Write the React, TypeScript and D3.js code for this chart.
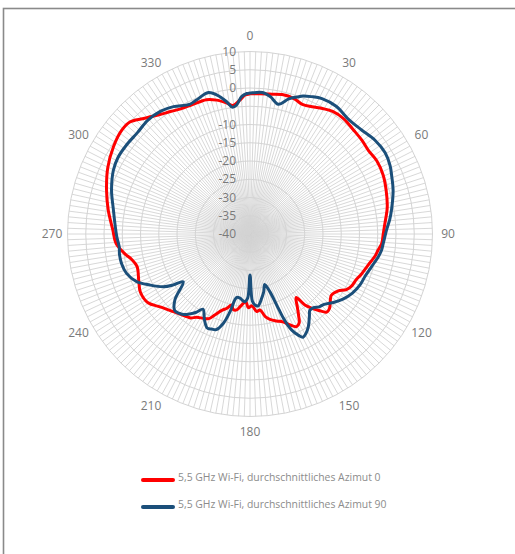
import * as d3 from "d3";

// radial axis (dB)
const ringValues = [10, 5, 0, -5, -10, -15, -20, -25, -30, -35, -40];
const ringLabels = [10, 5, 0, -10, -15, -20, -25, -30, -35, -40];
const categoryLabels = [0, 30, 60, 90, 120, 150, 180, 210, 240, 270, 300, 330];

// 5,5 GHz Wi-Fi, durchschnittliches Azimut 0
const azimut0Angles = [
  0, 4, 8, 13, 18, 22, 26, 30, 34, 39, 45, 50, 55, 60, 66, 72, 79, 86, 90, 94,
  97, 100, 105, 110, 113, 117, 120, 123, 127, 130, 133, 135.5, 138, 140.5,
  142.3, 144, 147, 149.2, 151, 153.3, 156.5, 159.5, 163, 166.5, 169.5, 172.5,
  175, 178.5, 181.3, 183.5, 186.7, 189.9, 192.5, 194.5, 197.5, 200, 203.5, 206,
  209, 212.6, 215.4, 218, 224.6, 231, 236, 242, 247, 254, 258, 261, 266, 271.7,
  279.6, 287, 295, 302.6, 309, 313, 317, 320, 323, 327, 331, 336, 342, 346, 350,
  352.5, 355.5, 358,
];
const azimut0Values = [
  -1.6, -1.5, -1.3, -0.8, -1.0, -1.7, -1.2, -0.3, 0.5, 0.7, 0.2, 0.0, -0.3, 0.1,
  -0.1, -0.8, -1.7, -3.0, -3.5, -3.8, -4.6, -5.2, -6.6, -7.6, -8.3, -8.7, -9.5,
  -11.3, -12.1, -11.3, -10.2, -10.0, -11.8, -13.8, -15.4, -18.5, -16.2, -14.0,
  -12.2, -11.6, -12.9, -14.3, -15.1, -15.9, -17.0, -19.0, -18.7, -20.3, -19.8,
  -21.4, -20.4, -18.9, -18.8, -19.9, -18.6, -17.8, -15.8, -14.2, -13.6, -12.9,
  -11.8, -11.4, -10.1, -8.3, -6.3, -6.0, -6.9, -7.8, -6.8, -5.3, -3.2, -2.4,
  -0.6, 1.1, 3.0, 4.4, 5.2, 5.0, 3.2, 2.0, 1.0, 0.0, -0.8, -1.2, -1.3, -2.2,
  -3.6, -4.5, -3.3, -1.9,
];

// 5,5 GHz Wi-Fi, durchschnittliches Azimut 90
const azimut90Angles = [
  0, 5, 8.5, 12.3, 16, 19, 21, 24, 28, 34, 41, 47, 53, 59, 64, 68, 73, 80, 84,
  88, 94, 97, 100, 105, 110, 115, 120, 125, 129, 133.5, 136.5, 139.5, 142, 144,
  147.8, 150.5, 152.8, 154.5, 156.5, 157.5, 158.4, 159.4, 161, 163.8, 166.5,
  169.7, 173.5, 176, 178, 180, 182, 184.2, 186, 188.8, 192, 194.4, 196.6, 199.5,
  202, 204.5, 208, 212, 214.5, 217, 219.5, 222, 224.6, 228.7, 234.4, 236.4,
  238.7, 243, 247.2, 252.3, 257, 261, 264.4, 268.8, 275, 280, 287.6, 295, 300,
  306, 312, 318, 324, 329, 335, 338, 343.6, 346.5, 350, 352, 354, 356.5, 358.7,
];
const azimut90Values = [
  -1.4, -1.1, -2.0, -3.6, -1.5, -0.3, 0.5, 1.2, 2.0, 2.2, 1.4, 1.8, 2.8, 3.2,
  2.7, 1.9, 1.0, -0.6, -1.5, -2.5, -3.4, -3.7, -4.3, -5.5, -6.4, -6.8, -7.6,
  -8.9, -10.3, -12.0, -12.5, -13.4, -13.4, -12.3, -10.0, -8.8, -8.2, -9.3,
  -11.3, -13.0, -15.3, -19.2, -23.3, -25.6, -23.8, -22.1, -20.2, -20.5, -21.6,
  -28.8, -22.5, -21.4, -21.6, -22.2, -22.2, -18.0, -14.5, -12.2, -11.9, -11.7,
  -13.4, -15.7, -14.0, -12.6, -11.4, -10.8, -10.6, -12.6, -17.5, -14.8, -12.2,
  -9.2, -6.3, -4.5, -3.9, -3.8, -4.0, -3.5, -2.8, -2.0, -0.2, 1.3, 1.8, 1.7,
  1.5, 1.9, 1.6, 0.7, -0.8, -0.5, 0.4, -0.8, -3.2, -4.9, -4.5, -2.3, -1.5,
];

const seriesNames = [
  "5,5 GHz Wi-Fi, durchschnittliches Azimut 0",
  "5,5 GHz Wi-Fi, durchschnittliches Azimut 90",
];
const seriesColors = ["#ff0000", "#1b4f7a"];

const cx = 250;
const cy = 234;
const outerR = 182.5;
const spokeCount = 200;

export default function App() {
  const r = d3.scaleLinear().domain([-40, 10]).range([0, outerR]);
  const rad = (deg: number) => (deg * Math.PI) / 180;

  const line = d3
    .lineRadial<[number, number]>()
    .angle((d) => rad(d[0]))
    .radius((d) => r(d[1]))
    .curve(d3.curveCatmullRomClosed.alpha(0.5));

  const series = [
    d3.zip(azimut0Angles, azimut0Values) as [number, number][],
    d3.zip(azimut90Angles, azimut90Values) as [number, number][],
  ];

  const spokes = d3.range(spokeCount).map((i) => (i * 360) / spokeCount);
  const font = "'Open Sans', 'Noto Sans', sans-serif";

  return (
    <svg
      width={515}
      height={554}
      style={{ position: "absolute", left: 0, top: 0, background: "#fff" }}
    >
      <rect x={3.5} y={8.5} width={600} height={600} fill="none" stroke="#8a8a8a" strokeWidth={1.6} />
      <g transform={`translate(${cx},${cy})`}>
        {spokes.map((a) => (
          <line
            key={a}
            x1={0}
            y1={0}
            x2={outerR * Math.sin(rad(a))}
            y2={-outerR * Math.cos(rad(a))}
            stroke="#d4d4d4"
            strokeWidth={0.9}
          />
        ))}
        {ringValues.map((v) => (
          <circle key={v} r={r(v)} fill="none" stroke="#d4d4d4" strokeWidth={1} />
        ))}
        {ringLabels.map((v) => (
          <text
            key={v}
            x={-14}
            y={-r(v)}
            dy="0.35em"
            textAnchor="end"
            fontFamily={font}
            fontSize={12}
            fill="#7a7a7a"
          >
            {v}
          </text>
        ))}
        {categoryLabels.map((c) => (
          <text
            key={c}
            x={198 * Math.sin(rad(c))}
            y={-198 * Math.cos(rad(c))}
            dy="0.35em"
            textAnchor="middle"
            fontFamily={font}
            fontSize={12}
            fill="#7a7a7a"
          >
            {c}
          </text>
        ))}
        {series.map((s, i) => (
          <path
            key={i}
            d={line(s) || ""}
            fill="none"
            stroke={seriesColors[i]}
            strokeWidth={3}
            strokeLinejoin="round"
          />
        ))}
      </g>
      <g>
        {seriesNames.map((name, i) => (
          <g key={name} transform={`translate(142,${480 + i * 27})`}>
            <line x1={1} x2={31} y1={0} y2={0} stroke={seriesColors[i]} strokeWidth={4} strokeLinecap="round" />
            <text x={36} y={-3} dy="0.35em" fontFamily={font} fontSize={10.4} fill="#8c8c8c">
              {name}
            </text>
          </g>
        ))}
      </g>
    </svg>
  );
}
